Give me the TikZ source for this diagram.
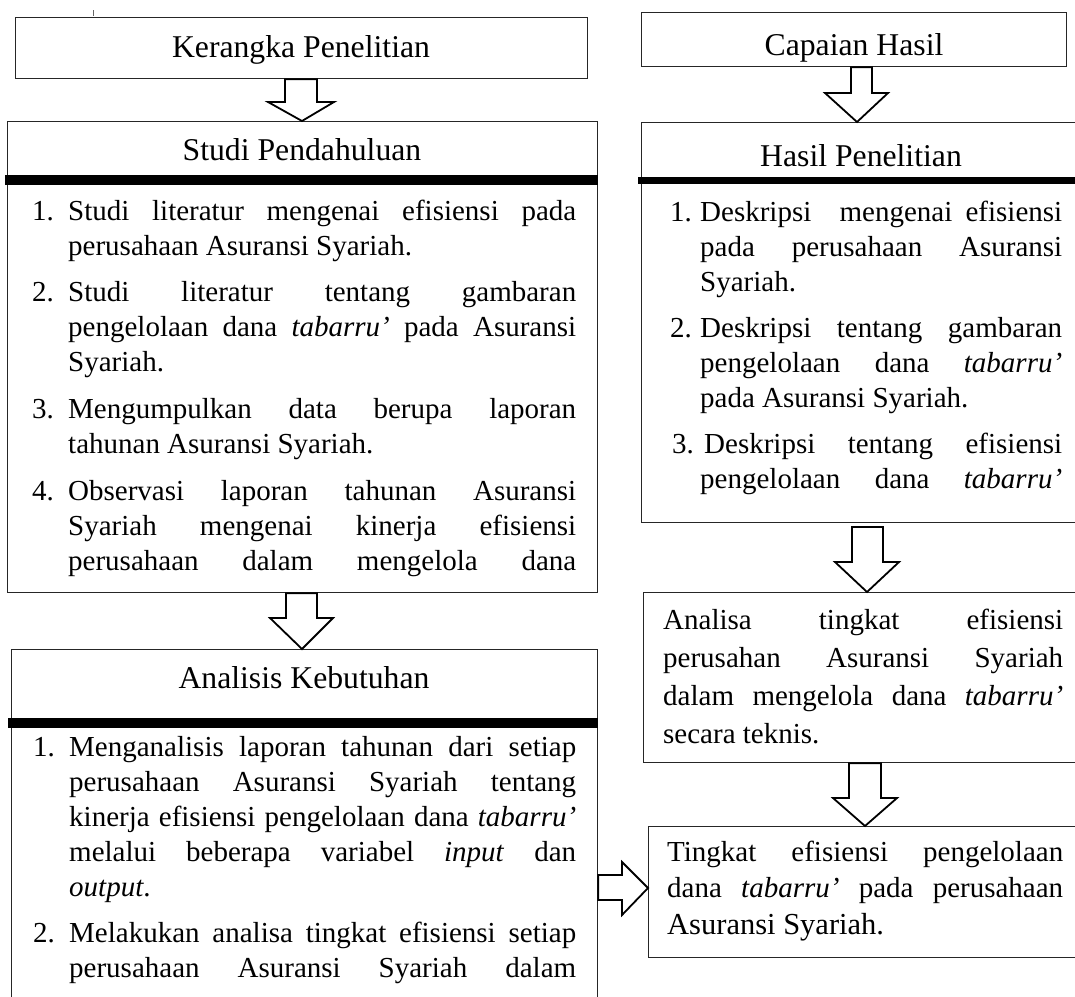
\documentclass[tikz,border=0pt]{standalone}
\usepackage{fontspec}
\setmainfont{Liberation Serif}
\usetikzlibrary{calc}
\newcommand\jl[2]{\hbox to #1{\spaceskip=0pt plus 1fil\xspaceskip=0pt plus 1fil\relax #2}}
\newcommand\nl[1]{\hbox{#1}}
\newcommand\numL[1]{\llap{\hbox to 36pt{#1\hss}}}
\newcommand\numR[1]{\llap{\hbox to 30pt{#1\hss}}}
\newcommand\tb[1]{\textit{#1}}
\tikzset{
  box/.style={draw=black!85, line width=1.3pt, fill=white, rectangle, inner sep=0pt, anchor=north west},
  sepline/.style={line width=10pt, black},
  septhin/.style={line width=7pt, black},
  barrow/.style={draw=black, line width=1.8pt, fill=white, line join=miter},
  title/.style={anchor=base, inner sep=0pt, font=\fontsize{31.7}{38}\selectfont},
  body/.style={anchor=base west, inner sep=0pt, font=\fontsize{29}{35}\selectfont}
}
\begin{document}
\begin{tikzpicture}[x=1pt,y=-1pt]
\useasboundingbox (0,0) rectangle (1075,996);
% ---------------- left column ----------------
\node[box, minimum width=572pt, minimum height=61pt] (kp) at (15,17) {};
\node[title] (kpt) at (301,57) {Kerangka Penelitian};
\draw[black!60, line width=0.6pt] (93,10) -- (93,16);

\node[box, minimum width=590pt, minimum height=471pt] (sp) at (7,121) {};
\node[title] (spt) at (302,160) {Studi Pendahuluan};
\draw[sepline] ([xshift=-2pt]sp.west |- 0,180) -- (sp.east |- 0,180);
\node[body] (spb) at (68,220) {\vtop{\baselineskip=35pt\lineskiplimit=-100pt
\jl{508pt}{\numL{1.}Studi literatur mengenai efisiensi pada}
\nl{perusahaan Asuransi Syariah.}
\vskip 11.7pt
\jl{508pt}{\numL{2.}Studi literatur tentang gambaran}
\jl{508pt}{pengelolaan dana \tb{tabarru’} pada Asuransi}
\nl{Syariah.}
\vskip 11.7pt
\jl{508pt}{\numL{3.}Mengumpulkan data berupa laporan}
\nl{tahunan Asuransi Syariah.}
\vskip 11.7pt
\jl{508pt}{\numL{4.}Observasi laporan tahunan Asuransi}
\jl{508pt}{Syariah mengenai kinerja efisiensi}
\jl{508pt}{perusahaan dalam mengelola dana}}};

\node[box, minimum width=586pt, minimum height=380pt] (ak) at (11,649) {};
\node[title] (akt) at (304,688) {Analisis Kebutuhan};
\draw[sepline] ([xshift=-3pt]ak.west |- 0,723) -- (ak.east |- 0,723);
\node[body] (akb) at (69,756) {\vtop{\baselineskip=35pt\lineskiplimit=-100pt
\jl{507pt}{\numL{1.}Menganalisis laporan tahunan dari setiap}
\jl{507pt}{perusahaan Asuransi Syariah tentang}
\jl{507pt}{kinerja efisiensi pengelolaan dana \tb{tabarru’}}
\jl{507pt}{melalui beberapa variabel \tb{input} dan}
\nl{\tb{output}.}
\vskip 11pt
\jl{507pt}{\numL{2.}Melakukan analisa tingkat efisiensi setiap}
\jl{507pt}{perusahaan Asuransi Syariah dalam}}};

% arrows left column
\draw[barrow] (285,0 |- kp.south) -- (285,102) -- (268,102) -- (302,0 |- sp.north)
  -- (334,102) -- (317,102) -- (317,0 |- kp.south) -- cycle;
\draw[barrow] (286,0 |- sp.south) -- (286,618) -- (270,618) -- (302,0 |- ak.north)
  -- (333,618) -- (317,618) -- (317,0 |- sp.south) -- cycle;

% ---------------- right column ----------------
\node[box, minimum width=425pt, minimum height=54pt] (ch) at (641,12) {};
\node[title] (cht) at (854,55) {Capaian Hasil};

\node[box, minimum width=440pt, minimum height=400pt] (hp) at (641,122) {};
\node[title] (hpt) at (861,166) {Hasil Penelitian};
\draw[septhin] ([xshift=-3pt]hp.west |- 0,180.5) -- (hp.east |- 0,180.5);
\node[body] (hpb) at (700,221) {\vtop{\baselineskip=35pt\lineskiplimit=-100pt
\jl{362pt}{\numR{1.}Deskripsi\hspace{15pt} mengenai efisiensi}
\jl{362pt}{pada perusahaan Asuransi}
\nl{Syariah.}
\vskip 11pt
\jl{362pt}{\numR{2.}Deskripsi tentang gambaran}
\jl{362pt}{pengelolaan dana \tb{tabarru’}}
\nl{pada Asuransi Syariah.}
\vskip 11pt
\jl{362pt}{\numR{\hskip2pt 3.}\hskip4pt Deskripsi tentang efisiensi}
\jl{362pt}{pengelolaan dana \tb{tabarru’}}}};

\node[box, minimum width=440pt, minimum height=170pt] (at) at (643,592) {};
\node[body] (atb) at (663,629) {\vtop{\baselineskip=38.3pt\lineskiplimit=-100pt
\jl{400pt}{Analisa tingkat efisiensi}
\jl{400pt}{perusahan Asuransi Syariah}
\jl{400pt}{dalam mengelola dana \tb{tabarru’}}
\nl{secara teknis.}}};

\node[box, minimum width=440pt, minimum height=131pt] (tk) at (648,826) {};
\node[body] (tkb) at (667,861) {\vtop{\baselineskip=36.5pt\lineskiplimit=-100pt
\jl{396pt}{Tingkat efisiensi pengelolaan}
\jl{396pt}{dana \tb{tabarru’} pada perusahaan}
\nl{\fontsize{30.5}{35}\selectfont Asuransi Syariah.}}};

% arrows right column
\draw[barrow] (851,0 |- ch.south) -- (851,93) -- (825,93) -- (857,0 |- hp.north)
  -- (888,93) -- (872,93) -- (872,0 |- ch.south) -- cycle;
\draw[barrow] (852,527) -- (852,562) -- (835,562) -- (867,0 |- at.north)
  -- (899,562) -- (883,562) -- (883,527) -- cycle;
\draw[barrow] (849,0 |- at.south) -- (849,798) -- (833,798) -- (865,0 |- tk.north)
  -- (897,798) -- (881,798) -- (881,0 |- at.south) -- cycle;

% horizontal arrow
\draw[barrow] (ak.east |- 0,875) -- (622,875) -- (622,862) -- (tk.west |- 0,888)
  -- (622,915) -- (622,900) -- (ak.east |- 0,900) -- cycle;
\end{tikzpicture}
\end{document}
